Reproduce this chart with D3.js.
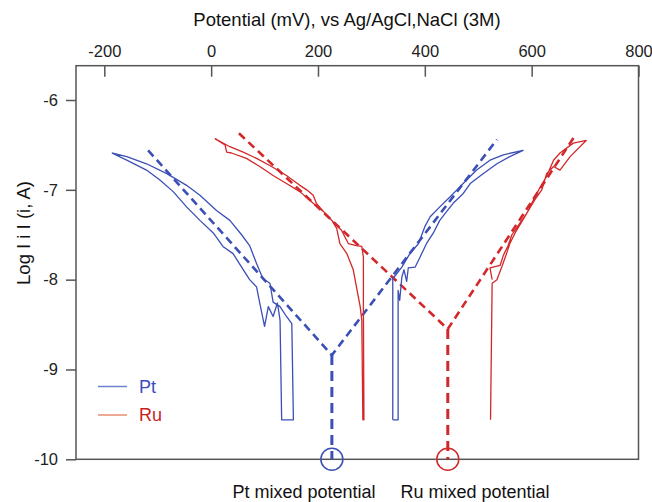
<!DOCTYPE html>
<html>
<head>
<meta charset="utf-8">
<script src="https://cdn.jsdelivr.net/npm/d3@7"></script>
<style>
  body { margin: 0; background: #fff; }
  svg text { font-family: "Liberation Sans", Arial, Helvetica, sans-serif; }
</style>
</head>
<body>
<div id="chart"></div>
<script>
// potential (mV) vs log|i|
var ptCathodic = [[-186,-6.59],[-158,-6.67],[-121,-6.78],[-96,-6.89],[-71,-7.02],[-46,-7.19],[-21,-7.34],[4,-7.48],
  [22,-7.63],[41,-7.71],[57,-7.86],[72,-8.00],[85,-8.08],[91,-8.26],[100,-8.52],[107,-8.30],[116,-8.41],[124,-8.26],
  [129,-8.45],[132,-9.56],[154,-9.56],[151,-8.49],[141,-8.41],[129,-8.30],[116,-8.25],[110,-8.04],[97,-7.99],[85,-7.82],
  [72,-7.62],[57,-7.50],[35,-7.34],[10,-7.23],[-21,-7.06],[-46,-6.95],[-83,-6.82],[-121,-6.71],[-158,-6.63],[-186,-6.59]];
var ptAnodic = [[340,-9.56],[340,-7.99],[357,-7.86],[372,-7.71],[388,-7.60],[400,-7.41],[410,-7.30],[428,-7.19],
  [447,-7.08],[460,-7.00],[475,-6.91],[497,-6.78],[522,-6.67],[547,-6.61],[584,-6.56],[559,-6.63],[535,-6.71],
  [509,-6.82],[485,-6.93],[472,-7.04],[453,-7.15],[441,-7.24],[428,-7.34],[416,-7.48],[403,-7.60],[391,-7.75],
  [382,-7.86],[369,-7.87],[366,-8.02],[361,-7.89],[357,-7.97],[353,-8.23],[350,-8.12],[350,-9.56],[340,-9.56]];
var ruCathodic = [[7,-6.43],[35,-6.52],[60,-6.58],[85,-6.65],[113,-6.74],[141,-6.84],[166,-6.95],[179,-7.00],
  [191,-7.06],[197,-7.15],[213,-7.26],[229,-7.36],[244,-7.45],[257,-7.60],[272,-7.62],[282,-7.63],[285,-7.75],
  [285,-8.30],[286,-9.56],[284,-9.56],[282,-8.45],[279,-8.30],[272,-8.08],[266,-7.89],[254,-7.71],[241,-7.60],
  [235,-7.43],[226,-7.34],[210,-7.24],[191,-7.15],[166,-7.02],[141,-6.93],[116,-6.84],[91,-6.74],[66,-6.65],
  [38,-6.59],[29,-6.58],[26,-6.50],[7,-6.43]];
var ruAnodic = [[523,-9.56],[526,-8.04],[535,-8.00],[544,-7.86],[553,-7.71],[559,-7.60],[569,-7.48],[581,-7.36],
  [594,-7.23],[606,-7.11],[619,-7.00],[628,-6.82],[641,-6.74],[653,-6.78],[672,-6.63],[702,-6.45],[678,-6.48],
  [653,-6.59],[641,-6.67],[628,-6.85],[616,-6.97],[606,-7.08],[591,-7.26],[578,-7.37],[563,-7.50],[556,-7.62],
  [547,-7.73],[541,-7.84],[522,-7.87],[526,-8.00]];

// Tafel extrapolations and mixed potentials
var ptTafel = [[-118,-6.56],[226,-8.84],[535,-6.44]];
var ruTafel = [[52,-6.37],[443,-8.55],[683,-6.38]];
var ptMixed = [[226,-8.84],[226,-10]];
var ruMixed = [[443,-8.55],[443,-10]];

var xTicks = [-200, 0, 200, 400, 600, 800];
var yTicks = [-6, -7, -8, -9, -10];

var blue = "#3b4fb6", red = "#d2282a";

var width = 652, height = 502;
var margin = { top: 65.7, right: 13.5, bottom: 42.7, left: 76 };
var innerW = width - margin.left - margin.right,
  innerH = height - margin.top - margin.bottom;

var svg = d3.select("#chart").append("svg")
  .attr("width", width).attr("height", height);

var g = svg.append("g").attr("transform", "translate(" + margin.left + "," + margin.top + ")");

var x = d3.scaleLinear().domain([-253, 800]).range([0, innerW]);
var y = d3.scaleLinear().domain([-10, -5.618]).range([innerH, 0]);

var line = d3.line()
  .x(function (d) { return x(d[0]); })
  .y(function (d) { return y(d[1]); });

// plain hyphen minus like the original
var fmt = function (d) { return String(d); };

// frame
g.append("rect")
  .attr("width", innerW).attr("height", innerH)
  .attr("fill", "none").attr("stroke", "#555").attr("stroke-width", 1.5);

var topAxis = g.append("g")
  .call(d3.axisTop(x).tickValues(xTicks).tickSizeInner(-11).tickSizeOuter(0).tickPadding(9).tickFormat(fmt));
topAxis.select(".domain").remove();
topAxis.selectAll("line").attr("stroke", "#555").attr("stroke-width", 1.5);
topAxis.selectAll("text").attr("fill", "#222").style("font-size", "16.5px");

var leftAxis = g.append("g")
  .call(d3.axisLeft(y).tickValues(yTicks).tickSizeInner(10).tickSizeOuter(0).tickPadding(8).tickFormat(fmt));
leftAxis.select(".domain").remove();
leftAxis.selectAll("line").attr("stroke", "#555").attr("stroke-width", 1.5);
leftAxis.selectAll("text").attr("fill", "#222").style("font-size", "16.5px");

// tafel dashes
[[ptTafel, blue], [ruTafel, red]].forEach(function (p) {
  g.append("path").datum(p[0]).attr("d", line)
    .attr("fill", "none").attr("stroke", p[1]).attr("stroke-width", 2.6)
    .attr("stroke-dasharray", "8,5");
});
[[ptMixed, blue], [ruMixed, red]].forEach(function (p) {
  g.append("path").datum(p[0]).attr("d", line)
    .attr("fill", "none").attr("stroke", p[1]).attr("stroke-width", 3)
    .attr("stroke-dasharray", "10,6");
});

// polarisation curves
[[ptCathodic, blue], [ptAnodic, blue], [ruCathodic, red], [ruAnodic, red]].forEach(function (p) {
  g.append("path").datum(p[0]).attr("d", line)
    .attr("fill", "none").attr("stroke", p[1]).attr("stroke-width", 1.3)
    .attr("stroke-linejoin", "round");
});

// circles at mixed potentials
[[ptMixed[1], blue], [ruMixed[1], red]].forEach(function (p) {
  g.append("circle")
    .attr("cx", x(p[0][0])).attr("cy", y(p[0][1])).attr("r", 11)
    .attr("fill", "none").attr("stroke", p[1]).attr("stroke-width", 1.5);
});

// legend
var legend = [["Pt", "#6f80cf", "#3a4cc0"], ["Ru", "#e98d74", "#c81e1e"]];
legend.forEach(function (d, i) {
  var ly = 386.5 + i * 28.5 - margin.top;
  g.append("line").attr("x1", 98 - margin.left).attr("x2", 127 - margin.left)
    .attr("y1", ly).attr("y2", ly).attr("stroke", d[1]).attr("stroke-width", 1.5);
  g.append("text").attr("x", 139 - margin.left).attr("y", ly).attr("dy", "0.35em")
    .attr("fill", d[2]).style("font-size", "18px").text(d[0]);
});

// titles
svg.append("text").attr("x", 347).attr("y", 26).attr("text-anchor", "middle")
  .attr("fill", "#111").style("font-size", "18.5px")
  .text("Potential (mV), vs Ag/AgCl,NaCl (3M)");

svg.append("text").attr("transform", "translate(30,233) rotate(-90)")
  .attr("text-anchor", "middle").attr("fill", "#111").style("font-size", "18.5px")
  .text("Log I i I  (i, A)");

svg.append("text").attr("x", 304).attr("y", 498).attr("text-anchor", "middle")
  .attr("fill", "#111").style("font-size", "18px").text("Pt mixed potential");
svg.append("text").attr("x", 475).attr("y", 498).attr("text-anchor", "middle")
  .attr("fill", "#111").style("font-size", "18px").text("Ru mixed potential");
</script>
</body>
</html>
